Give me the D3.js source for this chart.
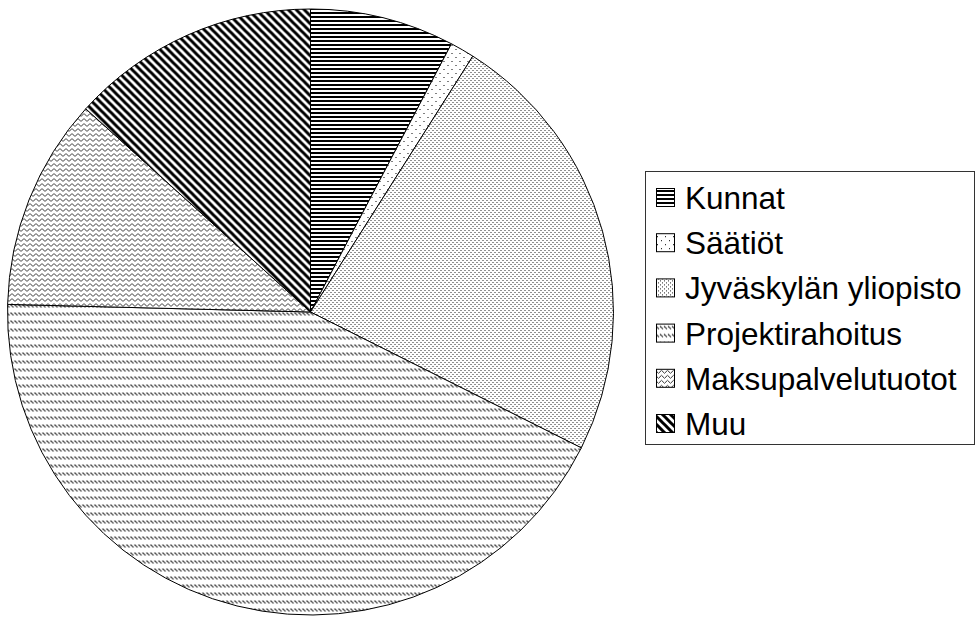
<!DOCTYPE html>
<html>
<head>
<meta charset="utf-8">
<script src="https://cdn.jsdelivr.net/npm/d3@7"></script>
<style>
html,body{margin:0;padding:0;background:#fff;}
svg{display:block;}
</style>
</head>
<body>
<svg id="chart" width="979" height="617"></svg>
<script>
// Data (percent shares)
const categories = ["Kunnat", "Säätiöt", "Jyväskylän yliopisto", "Projektirahoitus", "Maksupalvelutuotot", "Muu"];
const values = [7.7, 1.3, 23.4, 43.0, 11.3, 13.3];
const patternIds = ["pKunnat", "pSaatiot", "pJyu", "pProj", "pMaksu", "pMuu"];

const svg = d3.select("#chart");
const defs = svg.append("defs");

function mkPattern(id, w, h, draw) {
  const p = defs.append("pattern").attr("id", id)
    .attr("patternUnits", "userSpaceOnUse")
    .attr("width", w).attr("height", h);
  p.append("rect").attr("width", w).attr("height", h).attr("fill", "#fff");
  draw(p);
}
// Kunnat: dense horizontal black lines
mkPattern("pKunnat", 4, 4, p => {
  p.append("rect").attr("x", 0).attr("y", 0).attr("width", 4).attr("height", 2).attr("fill", "#000");
});
// Säätiöt: sparse dots
mkPattern("pSaatiot", 8, 8, p => {
  p.append("rect").attr("x", 1).attr("y", 1).attr("width", 1).attr("height", 1).attr("fill", "#000");
  p.append("rect").attr("x", 5).attr("y", 5).attr("width", 1).attr("height", 1).attr("fill", "#000");
});
// Jyväskylän yliopisto: fine dots
mkPattern("pJyu", 4, 4, p => {
  p.append("rect").attr("x", 0).attr("y", 0).attr("width", 1).attr("height", 1).attr("fill", "#222");
  p.append("rect").attr("x", 2).attr("y", 2).attr("width", 1).attr("height", 1).attr("fill", "#222");
});
// Projektirahoitus: rows of short backslash dashes
mkPattern("pProj", 4, 8, p => {
  p.append("path").attr("d", "M0,0.5 L3,3.5").attr("stroke", "#444").attr("stroke-width", 1.1).attr("fill", "none");
  p.append("path").attr("d", "M4,0.5 L7,3.5").attr("stroke", "#444").attr("stroke-width", 1.1).attr("fill", "none");
});
// Maksupalvelutuotot: horizontal zigzag waves
mkPattern("pMaksu", 6, 5, p => {
  p.append("path").attr("d", "M0,3 L1.5,1.5 L4.5,4.5 L6,3").attr("stroke", "#333").attr("stroke-width", 1).attr("fill", "none");
});
// Muu: thick diagonal black lines (\)
mkPattern("pMuu", 8, 8, p => {
  p.append("path").attr("d", "M-2,-2 L10,10 M-2,6 L2,10 M6,-2 L10,2")
    .attr("stroke", "#000").attr("stroke-width", 3).attr("fill", "none");
});

// Pie
const cx = 310.5, cy = 312, r = 303;
const pie = d3.pie().sort(null).value(d => d)(values);
const arc = d3.arc().innerRadius(0).outerRadius(r);

const g = svg.append("g").attr("transform", `translate(${cx},${cy})`);
g.selectAll("path.slice").data(pie).join("path")
  .attr("class", "slice")
  .attr("d", arc)
  .attr("fill", (d, i) => `url(#${patternIds[i]})`)
  .attr("stroke", "#000")
  .attr("stroke-width", 1)
  .attr("stroke-linejoin", "round");

// Legend
const lx = 645.5, ly = 171.5, lw = 329, lh = 273;
const legend = svg.append("g");
legend.append("rect").attr("x", lx).attr("y", ly).attr("width", lw).attr("height", lh)
  .attr("fill", "#fff").attr("stroke", "#333").attr("stroke-width", 1);

const rowY = d3.scalePoint().domain(categories).range([198, 424]);
const items = legend.selectAll("g.item").data(categories).join("g")
  .attr("class", "item")
  .attr("transform", d => `translate(0,${rowY(d)})`);
items.append("rect")
  .attr("x", 656.5).attr("y", -9.5).attr("width", 18).attr("height", 18)
  .attr("fill", (d, i) => `url(#${patternIds[i]})`)
  .attr("stroke", "#000").attr("stroke-width", 1);
items.append("text")
  .attr("x", 685).attr("y", 11)
  .attr("font-family", "'Liberation Sans', Arial, sans-serif")
  .attr("font-size", 31.5)
  .attr("fill", "#000")
  .text(d => d);
</script>
</body>
</html>
